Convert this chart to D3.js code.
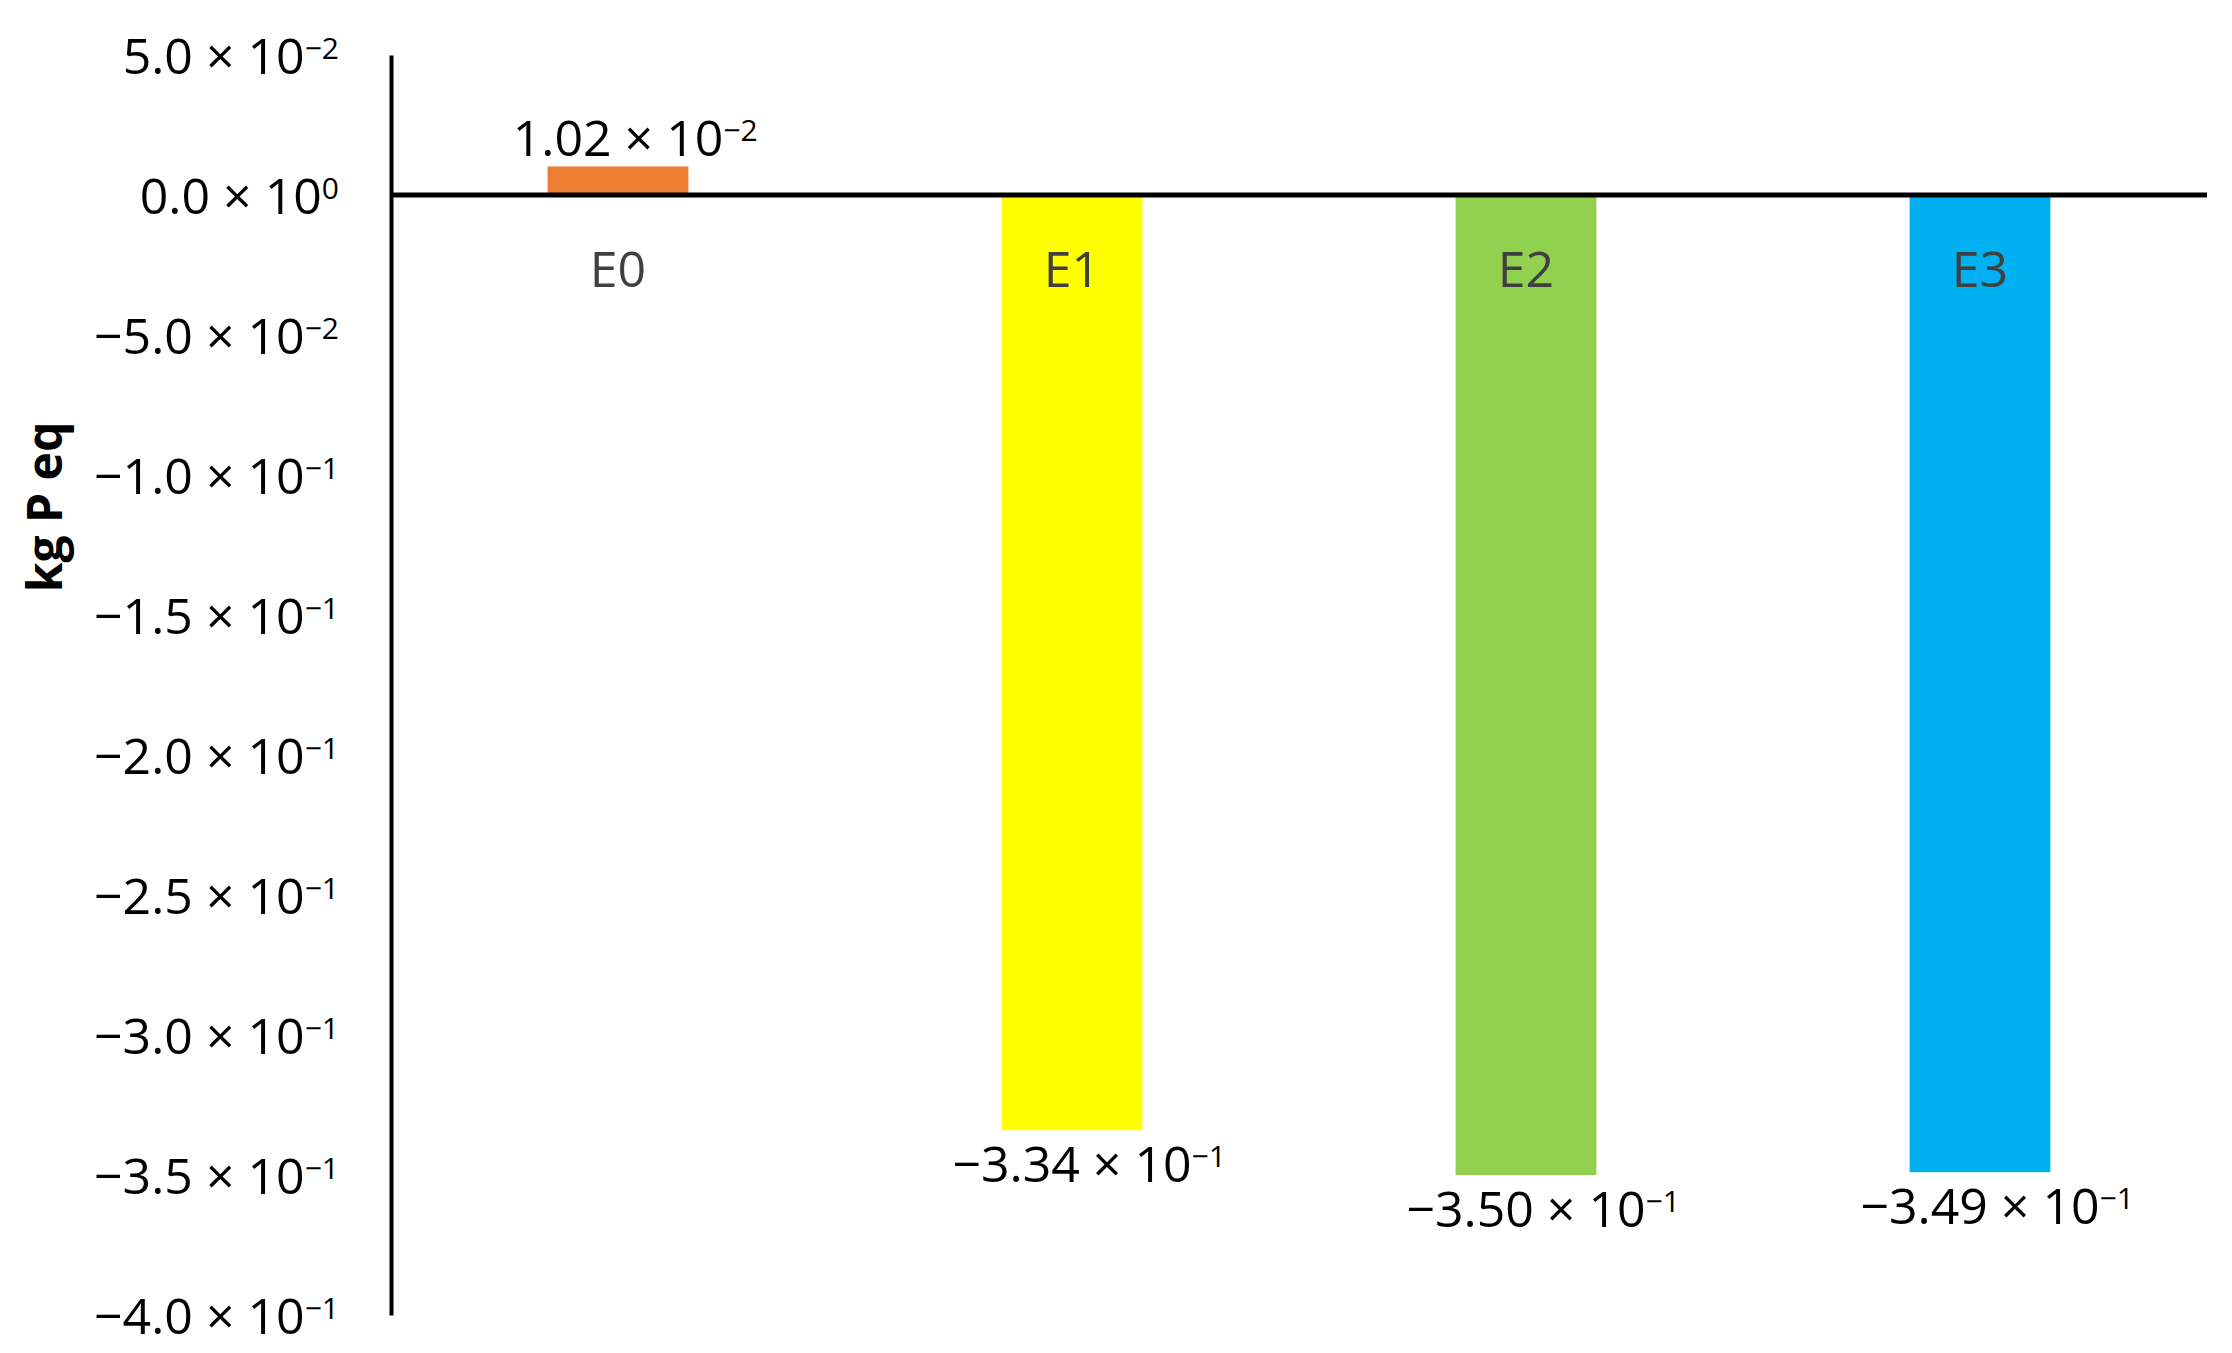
<!DOCTYPE html>
<html>
<head>
<meta charset="utf-8">
<script src="https://cdn.jsdelivr.net/npm/d3@7/dist/d3.min.js"></script>
<style>
body{margin:0;background:#fff;}
text{font-family:"Open Sans","Noto Sans",sans-serif;}
</style>
</head>
<body>
<div id="chart-div"></div>
<script>
var categories = ["E0", "E1", "E2", "E3"];
var values = [0.0102, -0.334, -0.350, -0.349];
var valueMantissa = ["1.02", "\u22123.34", "\u22123.50", "\u22123.49"];
var valueExponent = ["\u22122", "\u22121", "\u22121", "\u22121"];
var barColors = ["#ED7D31", "#FFFF00", "#92D050", "#00B0F0"];
var tickValues = [0.05, 0, -0.05, -0.1, -0.15, -0.2, -0.25, -0.3, -0.35, -0.4];
var tickMantissa = ["5.0", "0.0", "\u22125.0", "\u22121.0", "\u22121.5", "\u22122.0", "\u22122.5", "\u22123.0", "\u22123.5", "\u22124.0"];
var tickExponent = ["\u22122", "0", "\u22122", "\u22121", "\u22121", "\u22121", "\u22121", "\u22121", "\u22121", "\u22121"];
var yTitle = "kg P eq";

var props = {
  width: 2232,
  height: 1353,
  left: 391,
  right: 2207,
  top: 55,
  bottom: 1315,
  fontSize: 50
}

var svg = d3.select("#chart-div").append("svg")
  .attr("width", props.width).attr("height", props.height)
  .style("background", "#fff");

var yScale = d3.scaleLinear().domain([-0.4, 0.05]).range([props.bottom, props.top]);
var xScale = d3.scaleBand().domain(categories).range([props.left, props.right]).paddingInner(0.69).paddingOuter(0.345);

var data = categories.map(function(c, i){
  return {cat: c, value: values[i], color: barColors[i], mant: valueMantissa[i], exp: valueExponent[i]};
});

// bars
svg.selectAll(".bar")
  .data(data)
  .enter()
  .append("rect")
  .attr("class", "bar")
  .attr("x", function(d){return xScale(d.cat)})
  .attr("width", xScale.bandwidth())
  .attr("y", function(d){return yScale(Math.max(0, d.value))})
  .attr("height", function(d){return Math.abs(yScale(d.value) - yScale(0))})
  .style("fill", function(d){return d.color});

// y axis
var yAxis = d3.axisLeft(yScale).tickValues(tickValues).tickSize(0).tickSizeOuter(0).tickPadding(52);
var gy = svg.append("g").attr("transform", "translate(" + props.left + ",0)").call(yAxis);
gy.select(".domain").style("stroke", "#000").style("stroke-width", "4");
gy.selectAll(".tick text")
  .attr("font-size", props.fontSize)
  .attr("dy", "0.36em")
  .style("fill", "#000")
  .each(function(d, i){
    var t = d3.select(this).text(null);
    t.append("tspan").text(tickMantissa[i] + " \u00d7 10");
    t.append("tspan").attr("dy", "-0.5em").attr("font-size", "0.6em").text(tickExponent[i]);
  });

// zero line
svg.append("line")
  .attr("x1", props.left).attr("x2", props.right)
  .attr("y1", yScale(0)).attr("y2", yScale(0))
  .style("stroke", "#000").style("stroke-width", "5");

// category labels
svg.selectAll(".cat-label")
  .data(data)
  .enter()
  .append("text")
  .attr("class", "cat-label")
  .attr("x", function(d){return xScale(d.cat) + xScale.bandwidth() / 2})
  .attr("y", yScale(0) + 92)
  .attr("text-anchor", "middle")
  .attr("font-size", props.fontSize)
  .style("fill", "#404040")
  .text(function(d){return d.cat});

// value labels
var vl = svg.selectAll(".value-label")
  .data(data)
  .enter()
  .append("text")
  .attr("class", "value-label")
  .attr("y", function(d){return d.value >= 0 ? yScale(d.value) - 10 : yScale(d.value) + 52})
  .attr("text-anchor", "start")
  .attr("font-size", props.fontSize)
  .style("fill", "#000");
vl.append("tspan").attr("class", "mant").text(function(d){return d.mant + " \u00d7 10"});
vl.append("tspan").attr("dy", "-0.5em").attr("font-size", "0.6em").text(function(d){return d.exp});
vl.each(function(d){
  var w = d3.select(this).select(".mant").node().getComputedTextLength();
  d3.select(this).attr("x", xScale(d.cat) + xScale.bandwidth() / 2 - w / 2);
});

// y title
svg.append("text")
  .attr("transform", "translate(62,507) rotate(-90)")
  .attr("text-anchor", "middle")
  .attr("font-size", 48)
  .attr("font-weight", "bold")
  .style("fill", "#000")
  .text(yTitle);
</script>
</body>
</html>
